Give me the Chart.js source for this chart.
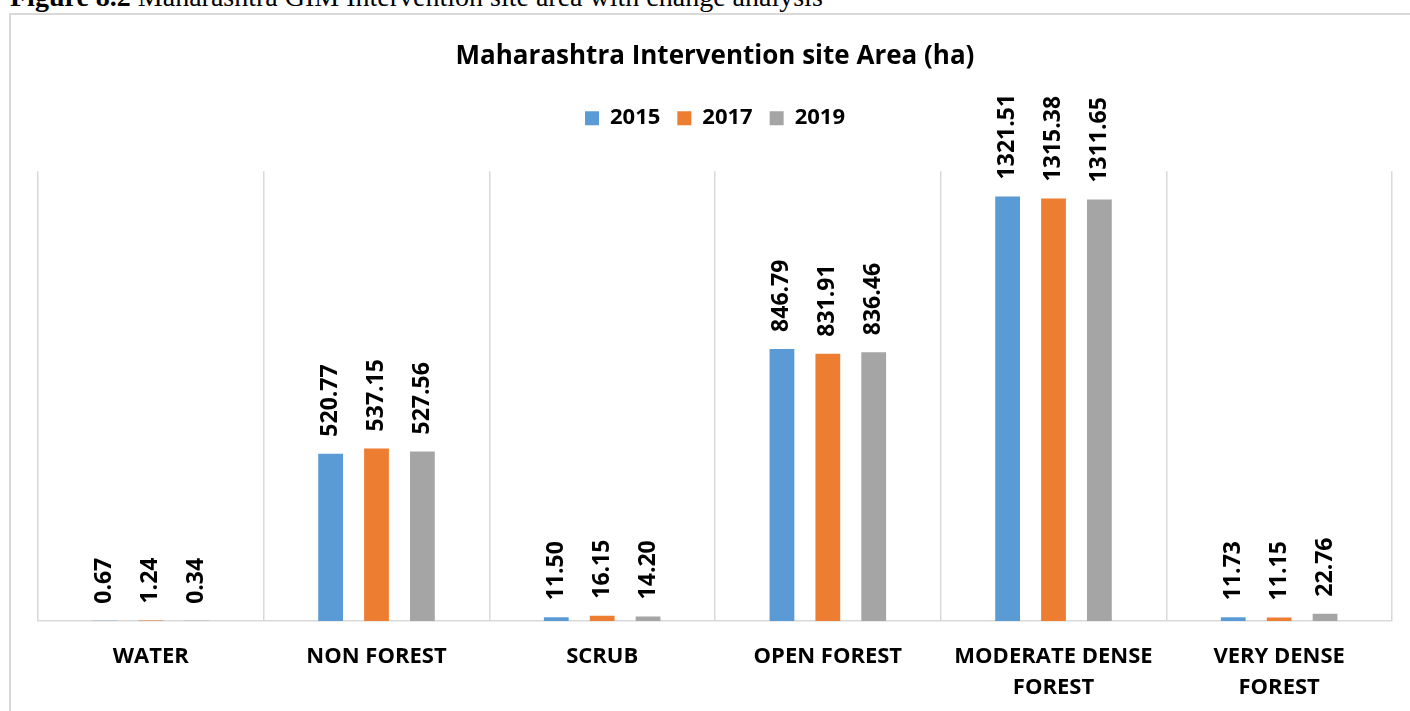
<!DOCTYPE html>
<html>
<head>
<meta charset="utf-8">
<script src="https://cdn.jsdelivr.net/npm/chart.js@4.4.1/dist/chart.umd.min.js"></script>
<style>
  body { margin: 0; background: #fff; width: 1410px; height: 711px; overflow: hidden; position: relative; }
  .caption { position: absolute; left: 10px; top: -17px; font-family: "Liberation Serif", serif; font-size: 28px; line-height: 28px; color: #000; white-space: nowrap; }
  .frame { position: absolute; left: 9px; top: 13px; width: 1430px; height: 740px; border: 2px solid #d9d9d9; }
  #chart { position: absolute; left: 0; top: 0; }
</style>
</head>
<body>
<div class="caption"><b>Figure 8.2</b> Maharashtra GIM Intervention site area with change analysis</div>
<div class="frame"></div>
<canvas id="chart" width="1410" height="711"></canvas>
<script>
// categories and values (ha)
const categories = ['WATER', 'NON FOREST', 'SCRUB', 'OPEN FOREST', ['MODERATE DENSE', 'FOREST'], ['VERY DENSE', 'FOREST']]
const years = ['2015', '2017', '2019']
const area2015 = [0.67, 520.77, 11.50, 846.79, 1321.51, 11.73]
const area2017 = [1.24, 537.15, 16.15, 831.91, 1315.38, 11.15]
const area2019 = [0.34, 527.56, 14.20, 836.46, 1311.65, 22.76]
const colors = ['#5b9bd5', '#ed7d31', '#a5a5a5']

const font = '"Open Sans", sans-serif'

// value labels written vertically above each bar
const barLabels = {
    id: 'barLabels',
    afterDatasetsDraw(chart) {
        const ctx = chart.ctx
        ctx.save()
        ctx.font = 'bold 23px ' + font
        ctx.fillStyle = '#000'
        ctx.textAlign = 'left'
        ctx.textBaseline = 'middle'
        chart.data.datasets.forEach((ds, i) => {
            chart.getDatasetMeta(i).data.forEach((bar, j) => {
                ctx.save()
                ctx.translate(bar.x, bar.y - 17)
                ctx.rotate(-Math.PI / 2)
                ctx.fillText(ds.data[j].toFixed(2), 0, 0)
                ctx.restore()
            })
        })
        ctx.restore()
    }
}

// extra room under the legend
const legendSpace = {
    id: 'legendSpace',
    beforeInit(chart) {
        const fit = chart.legend.fit
        chart.legend.fit = function () {
            fit.bind(chart.legend)()
            this.height += 32
        }
    }
}

const ctx = document.getElementById('chart').getContext('2d')
new Chart(ctx, {
    type: 'bar',
    data: {
        labels: categories,
        datasets: [
            { label: years[0], data: area2015, backgroundColor: colors[0] },
            { label: years[1], data: area2017, backgroundColor: colors[1] },
            { label: years[2], data: area2019, backgroundColor: colors[2] }
        ]
    },
    options: {
        responsive: false,
        animation: false,
        layout: { padding: { top: 41, left: 38, right: 18, bottom: -12 } },
        datasets: {
            bar: { categoryPercentage: 0.61, barPercentage: 0.54 }
        },
        scales: {
            x: {
                grid: { color: '#d9d9d9', lineWidth: 1.5, drawTicks: false },
                border: { color: '#d9d9d9', width: 1.5 },
                ticks: {
                    color: '#000',
                    padding: 20,
                    maxRotation: 0,
                    autoSkip: false,
                    font: { family: font, size: 22, weight: 'bold', lineHeight: 1.41 }
                }
            },
            y: {
                display: false,
                min: 0,
                max: 1400
            }
        },
        plugins: {
            title: {
                display: true,
                text: 'Maharashtra Intervention site Area (ha)',
                color: '#000',
                font: { family: font, size: 26, weight: 'bold', lineHeight: 1.2 },
                padding: { top: 0, bottom: 18 }
            },
            legend: {
                labels: {
                    color: '#000',
                    boxWidth: 14,
                    boxHeight: 14,
                    padding: 17,
                    font: { family: font, size: 22, weight: 'bold' }
                }
            },
            tooltip: { enabled: false }
        }
    },
    plugins: [barLabels, legendSpace]
})
</script>
</body>
</html>
